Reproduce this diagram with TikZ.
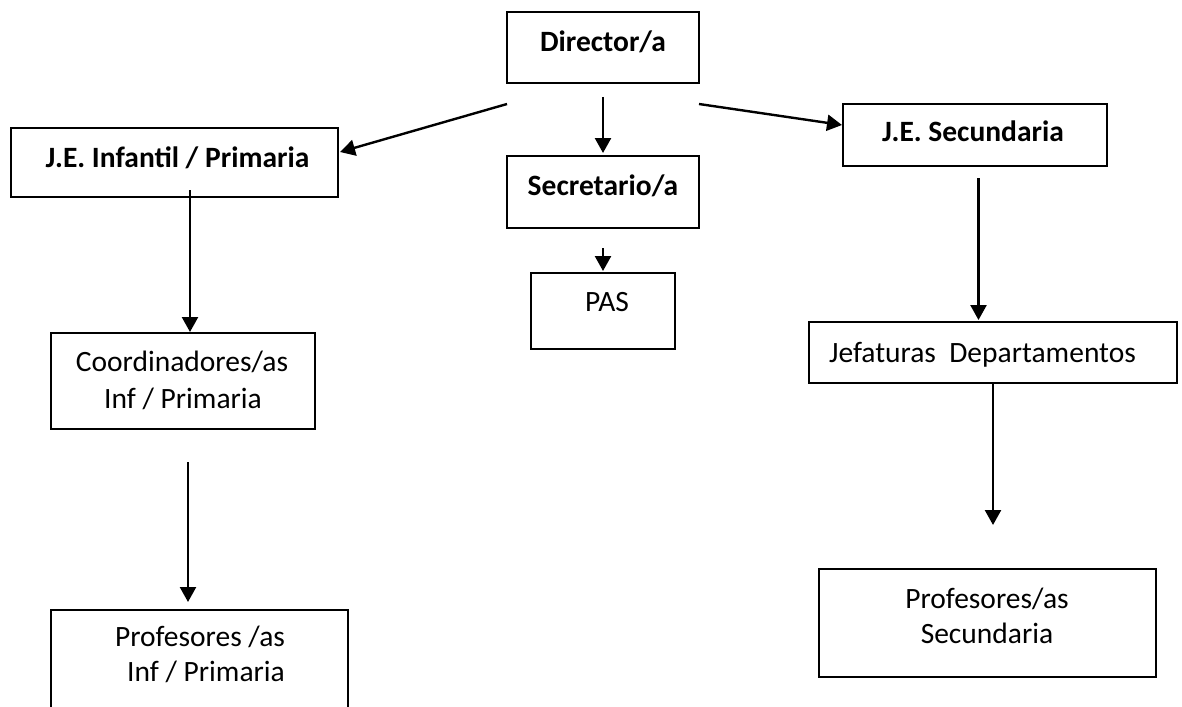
\documentclass[tikz,border=0pt]{standalone}
\usepackage{fontspec}
\setmainfont{Carlito}
\usetikzlibrary{arrows.meta}
\begin{document}
\begin{tikzpicture}[x=1pt,y=-1pt,
  box/.style={draw=black,line width=2.4pt,inner sep=0pt},
  lbl/.style={inner sep=0pt,anchor=base,font=\fontsize{29.5}{36}\selectfont},
  blbl/.style={lbl,font=\fontsize{29.5}{36}\selectfont\bfseries},
  arr/.style={line width=2.4pt,-{Triangle[width=16pt,length=15pt]}}]
\fill[white] (0,0) rectangle (1182,706);
\useasboundingbox (0,0) rectangle (1182,706);
% boxes
\node[box,minimum width=192pt,minimum height=71pt] (dir) at (603,47.5) {};
\node[box,minimum width=327pt,minimum height=69pt] (jei) at (174.5,162.5) {};
\node[box,minimum width=192pt,minimum height=72pt] (sec) at (603,192) {};
\node[box,minimum width=264pt,minimum height=62pt] (jes) at (975,135) {};
\node[box,minimum width=144pt,minimum height=76pt] (pas) at (603,311) {};
\node[box,minimum width=264pt,minimum height=96pt] (coo) at (183,381) {};
\node[box,minimum width=368pt,minimum height=61pt] (jef) at (993,352.5) {};
\node[box,minimum width=297pt,minimum height=110pt] (pri) at (199.5,665) {};
\node[box,minimum width=337pt,minimum height=108pt] (prs) at (987.5,623) {};
% texts
\node[blbl] (dirT) at (603,51.7) {Director/a};
\node[blbl] (jeiT) at (177.5,167) {J.E. Infantil / Primaria};
\node[blbl] (secT) at (603,195) {Secretario/a};
\node[blbl] (jesT) at (973,141.7) {J.E. Secundaria};
\node[lbl] (pasT) at (607,311.7) {PAS};
\node[lbl] (cooT1) at (182,371) {Coordinadores/as};
\node[lbl] (cooT2) at (183,408) {Inf / Primaria};
\node[lbl] (jefT) at (982.5,362) {Jefaturas~~Departamentos};
\node[lbl] (priT1) at (200,646.7) {Profesores /as};
\node[lbl] (priT2) at (206,681.7) {Inf / Primaria};
\node[lbl] (prsT1) at (987,608) {Profesores/as};
\node[lbl] (prsT2) at (987,643) {Secundaria};
% connector end points
\coordinate (a1s) at (507,104); \coordinate (a1e) at (340,152);
\coordinate (a2s) at (603,97);  \coordinate (a2e) at (603,153);
\coordinate (a3s) at (699,104); \coordinate (a3e) at (842,125);
\coordinate (a4s) at (190,190); \coordinate (a4e) at (190,332);
\coordinate (a5s) at (188,462); \coordinate (a5e) at (188,602);
\coordinate (a6s) at (603,248); \coordinate (a6e) at (603,271);
\coordinate (a7s) at (978.5,178); \coordinate (a7e) at (978.5,320);
\coordinate (a8s) at (993,383); \coordinate (a8e) at (993,525);
\draw[arr] (a1s) -- (a1e);
\draw[arr] (a2s) -- (a2e);
\draw[arr] (a3s) -- (a3e);
\draw[arr] (a4s) -- (a4e);
\draw[arr] (a5s) -- (a5e);
\draw[arr] (a6s) -- (a6e);
\draw[arr] (a7s) -- (a7e);
\draw[arr] (a8s) -- (a8e);
\end{tikzpicture}
\end{document}
